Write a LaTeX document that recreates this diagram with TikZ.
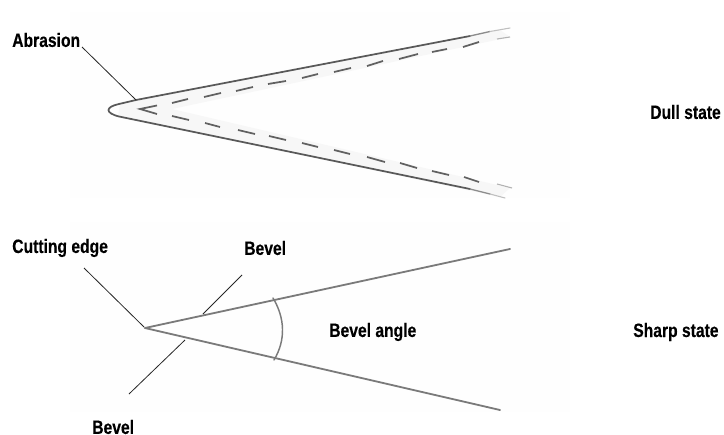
\documentclass[tikz,border=0pt]{standalone}
\usepackage{fontspec}
\setmainfont[FakeStretch=0.81,FakeBold=0.3]{Liberation Sans Bold}
\begin{document}
\begin{tikzpicture}[x=0.75pt,y=-0.75pt,
  lab/.style={font=\fontsize{14.5}{16}\selectfont,inner sep=0pt,anchor=west,text=black},
  leader/.style={draw=black!85,line width=0.6pt},
  edge/.style={draw=black!65,line width=1.3pt,line cap=round},
  sharpedge/.style={draw=black!52,line width=1.35pt,line cap=round},
  dsh/.style={draw=black!62,line width=1.3pt}]
\useasboundingbox (0,0) rectangle (724,435);
% pale paper tone behind the blades
\fill[black!0.5] (70,12) rectangle (570,198);
\fill[black!0.5] (70,222) rectangle (570,412);
\fill[black!3] (120,104) -- (500,30) -- (510,37) -- (172,109) -- (510,188) -- (500,197) -- (118,116) -- cycle;
% dull blade
\coordinate (abr) at (136,100);
\draw[edge] (470,36) -- (136,100) -- (119,104) .. controls (105,107) and (105,113) .. (119,116.5) -- (470,189);
\draw[edge,black!45,line width=1pt] (470,36) -- (490,31.5);
\draw[edge,black!25,line width=.8pt] (490,31.5) -- (510,28);
\draw[edge,black!45,line width=1pt] (470,189) -- (490,194);
\draw[edge,black!25,line width=.8pt] (490,194) -- (505,198);
\foreach \a/\b/\c/\d in {172/103/188/99,204/97/221/93,236/91/253/87,268/84/286/81,302/78/318/74,334/72/351/68,367/66/383/61,399/59/418/54,432/52/447/49,463/47/479/42,
 172/116/189/120,205/123/220/127,238/130/255/134,269/136/286/140,302/143/318/147,334/150/350/154,367/157/385/162,400/163/417/168,432/171/449/175,464/177/479/182}
  \draw[dsh] (\a,\b) -- (\c,\d);
\draw[dsh,black!30,line width=.8pt] (497,39) -- (510,37);
\draw[dsh,black!30,line width=.8pt] (497,184) -- (512,188);
\draw[dsh] (157,105.5) -- (140,109) -- (157,114);
% sharp blade
\coordinate (tip) at (145,328);
\coordinate (up) at (510,249);
\coordinate (low) at (500,410);
\draw[sharpedge] (tip) -- (up);
\draw[sharpedge] (tip) -- (low);
\coordinate (a1) at (273,298);
\coordinate (a2) at (274,360);
\draw[sharpedge,line width=1.1pt] (a1) .. controls (285,318) and (286,340) .. (a2);
% labels
\node[lab] (labr) at (12,40) {Abrasion};
\node[lab] (ldull) at (650,112) {Dull state};
\node[lab] (lcut) at (12,248) {Cutting edge};
\node[lab] (lbev1) at (244,248) {Bevel};
\node[lab] (lang) at (329,332) {Bevel angle};
\node[lab] (lsharp) at (633,332) {Sharp state};
\node[lab] (lbev2) at (92,427) {Bevel};
% leaders
\coordinate (c1) at (82,47);
\coordinate (c2) at (84,268);
\coordinate (c3) at (144,327);
\coordinate (c4) at (242,275);
\coordinate (c5) at (203,314);
\coordinate (c6) at (129,394);
\coordinate (c7) at (185,340);
\draw[leader] (c1) -- (abr);
\draw[leader] (c2) -- (c3);
\draw[leader] (c4) -- (c5);
\draw[leader] (c6) -- (c7);
\end{tikzpicture}
\end{document}
